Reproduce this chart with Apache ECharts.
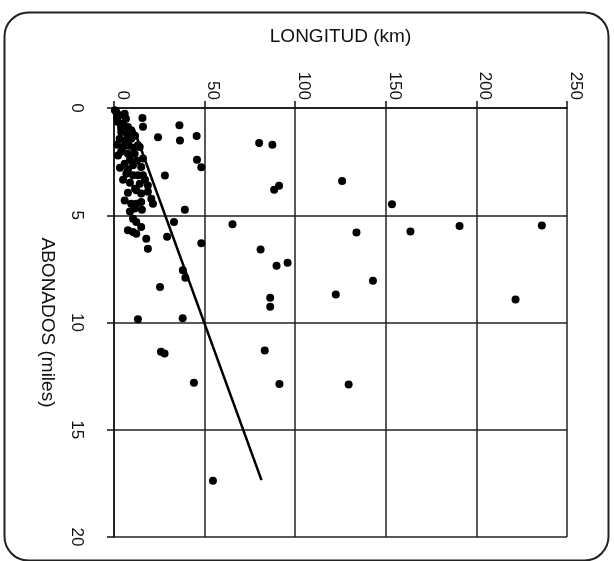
<!DOCTYPE html>
<html>
<head>
<meta charset="utf-8">
<script src="https://cdn.jsdelivr.net/npm/echarts@6/dist/echarts.min.js"></script>
<style>
html,body{margin:0;padding:0;background:#fff;}
#chart{width:614px;height:561px;}
</style>
</head>
<body>
<div id="chart"></div>
<script>
// Tick labels
const xTicks = [0, 50, 100, 150, 200, 250];
const yTicks = [0, 5, 10, 15, 20];

// Scatter data: LONGITUD (km) and ABONADOS (miles)
const longitudKm = [
  15.7, 16.0, 24.3, 36.1, 36.4, 45.6, 45.8, 48.2, 28.1, 39.1, 33.1, 29.3, 48.2, 25.4, 38.0, 39.4,
  13.2, 37.9, 25.9, 27.9, 44.1, 54.6, 65.4, 80.1, 87.4, 88.4, 91.1, 80.9, 89.7, 95.8, 86.2, 86.2,
  83.2, 91.3, 125.9, 153.4, 133.8, 163.6, 190.7, 236.1, 142.9, 122.4, 221.6, 129.5, 18.7, 17.8,
  1.3, 3.1, 5.9, 2.2, 5.0, 7.7, 9.5, 4.0, 3.1, 5.9, 9.5, 13.2, 14.2, 5.0, 2.2, 7.7, 11.4, 16.0,
  5.9, 10.5, 15.0, 6.8, 10.5, 13.2, 16.0, 14.2, 18.7, 12.3, 15.0, 18.7, 20.6, 21.5, 5.9, 9.5,
  12.3, 15.0, 11.4, 10.5, 12.3, 15.0, 7.7, 10.5, 12.3,
  0.5, 1.7, 6.6, 3.9, 7.2, 11.6, 1.7, 8.3, 11.0, 3.9, 8.8, 12.7, 3.3, 7.7, 5.0, 8.8, 11.6, 7.7,
  17.1, 15.4, 8.8
];
const abonadosMiles = [
  0.47, 0.87, 1.36, 0.80, 1.51, 1.30, 2.41, 2.76, 3.15, 4.74, 5.32, 6.00, 6.30, 8.34, 7.56, 7.91,
  9.85, 9.80, 11.36, 11.45, 12.81, 17.38, 5.42, 1.63, 1.71, 3.81, 3.62, 6.60, 7.35, 7.22, 8.85, 9.27,
  11.31, 12.87, 3.40, 4.49, 5.81, 5.76, 5.50, 5.48, 8.05, 8.70, 8.93, 12.89, 6.56, 6.09,
  0.19, 0.34, 0.27, 0.65, 0.73, 0.89, 1.04, 1.12, 1.43, 1.51, 1.43, 1.74, 1.82, 1.82, 2.21, 2.13, 2.13, 2.36,
  2.60, 2.67, 2.75, 3.06, 3.14, 3.14, 3.14, 3.53, 3.61, 3.84, 3.99, 3.91, 4.23, 4.46, 4.31, 4.46,
  4.46, 4.38, 4.69, 5.16, 5.31, 5.55, 5.70, 5.78, 5.86,
  0.10, 0.45, 0.50, 0.92, 1.20, 1.29, 1.71, 1.76, 1.85, 2.04, 2.41, 2.46, 2.78, 2.87, 3.34, 3.48, 3.76, 3.95,
  3.34, 4.74, 4.83
];

// Regression line end points
const lineKm = [11, 81.4];
const lineMiles = [1.0, 17.35];

const scatterData = longitudKm.map((v, i) => [v, abonadosMiles[i]]);
const lineData = lineKm.map((v, i) => [v, lineMiles[i]]);

const FONT = 'Liberation Sans, Arial, sans-serif';
const chart = echarts.init(document.getElementById('chart'), null, {renderer: 'canvas'});
chart.setOption({
  backgroundColor: '#ffffff',
  animation: false,
  grid: {left: 114, top: 108, width: 453, height: 429, show: false},
  xAxis: {
    type: 'value', position: 'top', min: xTicks[0], max: xTicks[xTicks.length - 1], interval: 50,
    name: 'LONGITUD (km)', nameLocation: 'middle', nameGap: 62,
    nameTextStyle: {fontFamily: FONT, fontSize: 19, color: '#111'},
    axisLine: {show: true, lineStyle: {color: '#111', width: 1.5}},
    axisTick: {show: true, length: 7, lineStyle: {color: '#111', width: 1.5}},
    axisLabel: {rotate: -90, margin: 8, fontFamily: FONT, fontSize: 17, color: '#111', verticalAlign: 'bottom'},
    splitLine: {show: true, lineStyle: {color: '#222', width: 1.5}}
  },
  yAxis: {
    type: 'value', inverse: true, min: yTicks[0], max: yTicks[yTicks.length - 1], interval: 5,
    name: 'ABONADOS (miles)', nameLocation: 'middle', nameGap: 57, nameRotate: -90,
    nameTextStyle: {fontFamily: FONT, fontSize: 19, color: '#111'},
    axisLine: {show: true, lineStyle: {color: '#111', width: 1.5}},
    axisTick: {show: true, length: 7, lineStyle: {color: '#111', width: 1.5}},
    axisLabel: {rotate: -90, margin: 29, fontFamily: FONT, fontSize: 17, color: '#111'},
    splitLine: {show: true, lineStyle: {color: '#222', width: 1.5}}
  },
  graphic: [{
    type: 'rect', left: 2, top: 10, silent: true, z: -1,
    shape: {width: 604, height: 548, r: 24},
    style: {fill: 'none', stroke: '#222', lineWidth: 2}
  }],
  series: [{
    type: 'scatter', data: scatterData, symbol: 'circle', symbolSize: 8,
    itemStyle: {color: '#000', opacity: 1}
  }, {
    type: 'line', data: lineData, showSymbol: false, symbol: 'none',
    lineStyle: {color: '#000', width: 2.5}
  }]
});
</script>
</body>
</html>
